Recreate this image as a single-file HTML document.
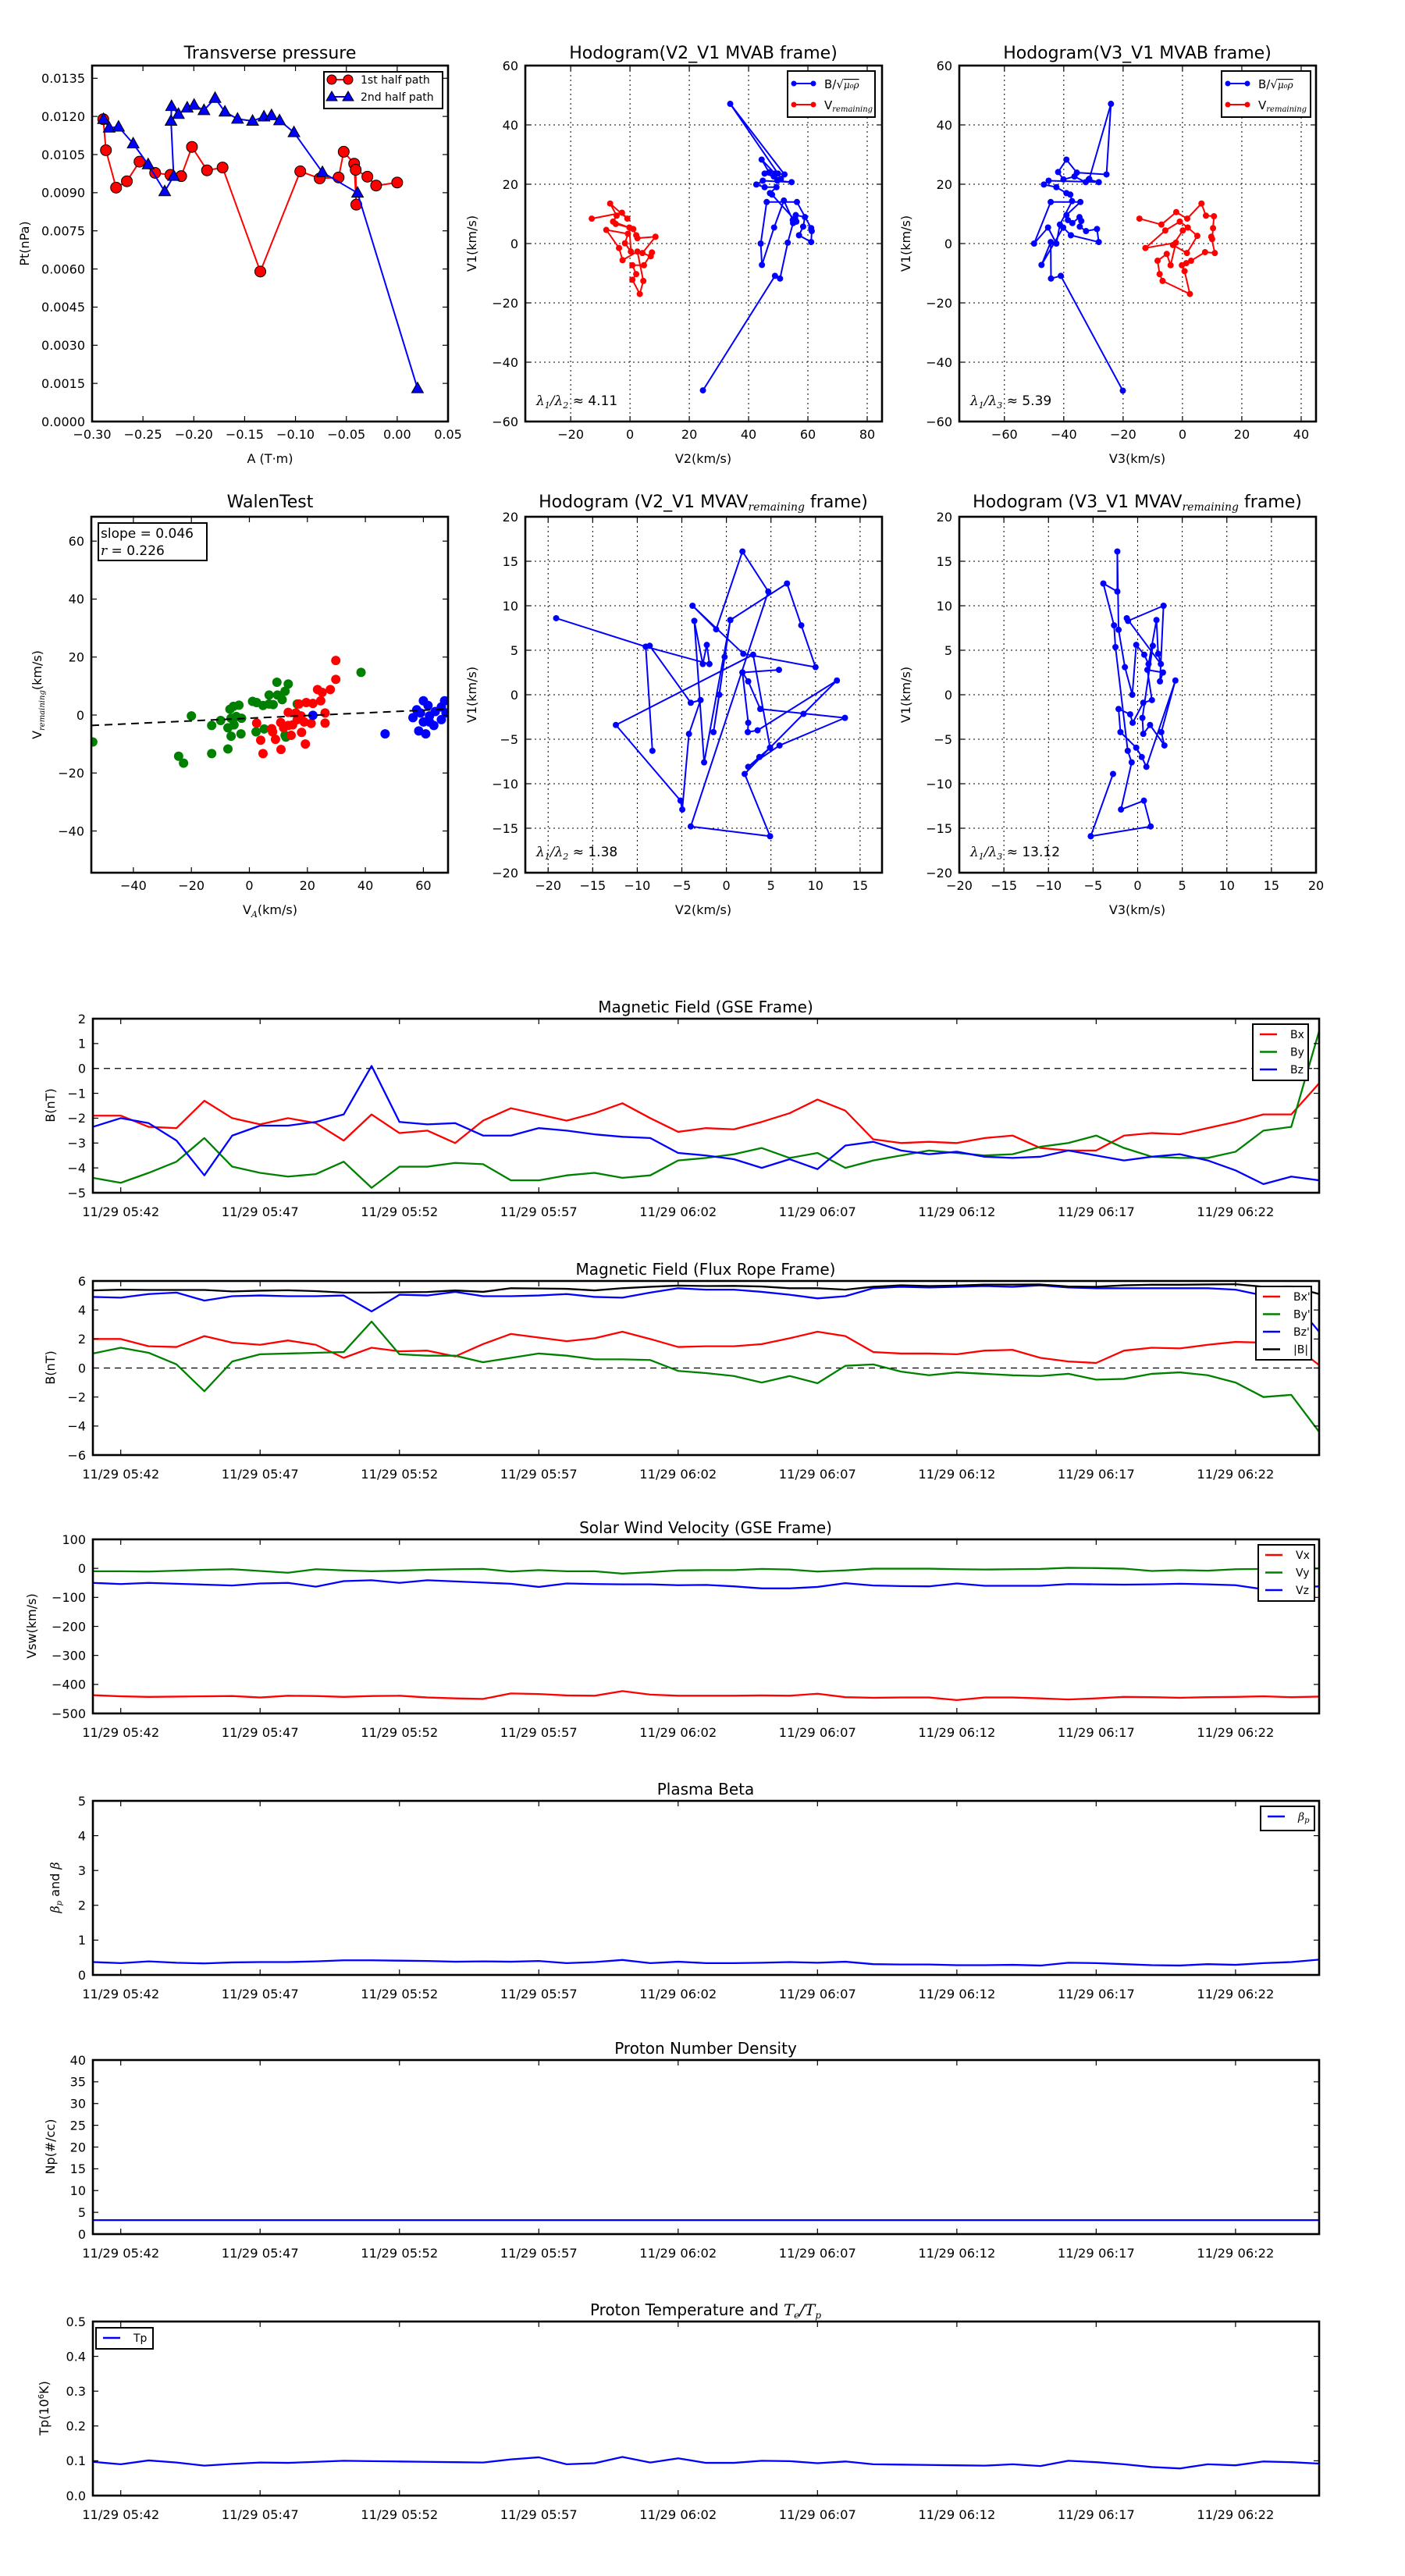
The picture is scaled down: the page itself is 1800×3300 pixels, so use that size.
<!DOCTYPE html>
<html><head><meta charset="utf-8">
<style>
html,body{margin:0;padding:0;background:#fff;}
svg{display:block;font-family:"DejaVu Sans","Liberation Sans",sans-serif;}
</style></head>
<body>
<svg id="fig" xmlns="http://www.w3.org/2000/svg" width="1800" height="3300" viewBox="0 0 1800 3300">
<rect x="0" y="0" width="1800" height="3300" fill="#fff"/>
</svg>
<script>
// ---------- Transverse pressure data ----------
const tp1A = [-0.289,-0.2864,-0.2764,-0.2658,-0.2534,-0.238,-0.223,-0.2124,-0.2018,-0.187,-0.1717,-0.1346,-0.0953,-0.0762,-0.0576,-0.0526,-0.0423,-0.0402,-0.0408,-0.0293,-0.0207,0.0];
const tp1P = [0.01189,0.01067,0.0092,0.00945,0.01022,0.00978,0.0097,0.00965,0.0108,0.00988,0.00999,0.0059,0.00984,0.00956,0.0096,0.01061,0.01014,0.00853,0.0099,0.00963,0.00928,0.0094];
const tp2A = [-0.2888,-0.2832,-0.274,-0.2596,-0.2449,-0.2286,-0.2198,-0.2224,-0.2219,-0.2151,-0.2065,-0.1997,-0.19,-0.1791,-0.1694,-0.157,-0.1422,-0.131,-0.1236,-0.1157,-0.1015,-0.0735,-0.039,0.02];
const tp2P = [0.01189,0.01155,0.01159,0.01093,0.01011,0.00905,0.00965,0.01182,0.0124,0.01209,0.01234,0.01245,0.01224,0.01272,0.01218,0.0119,0.01182,0.01199,0.01204,0.01184,0.01137,0.0098,0.00899,0.0013];
// ---------- Hodogram V2_V1 MVAB ----------
const h1BlueV2 = [24.6,48.9,50.6,53.2,55,55.9,59,58.4,57,61.1,61.3,61.1,56.3,46.1,44.1,44.5,48.6,51.9,54.9,55.7,56.1,47.9,47.2,49.4,45.4,42.6,44.8,54.5,49.7,50.9,48.5,45.4,46.9,44.4,48.9,52.1,33.8,49.9];
const h1BlueV1 = [-49.5,-10.9,-11.8,0.3,6.9,9.6,8.9,5.7,2.8,0.5,4.2,5.2,14,14,0,-7.2,5.4,14.5,7.9,8.4,7.4,16.5,17,19,19,19.9,21.2,20.7,21.2,21.8,22.6,23.6,24,28.3,23.6,23.3,47.1,23.6];
const h1RedV2 = [-12.9,-2.7,-0.9,-6.7,-4.5,-5.7,1.1,2.1,2.5,8.6,4.2,7,7.4,4.7,0.8,2.1,0.8,3.3,4.5,2.5,-2.5,-3.7,-8,-0.7,-1.7,0.3,-0.2,-4.8];
const h1RedV1 = [8.4,10.4,8.4,13.5,9.4,7.4,4.9,2.8,1.8,2.3,-3.2,-4.3,-3,-7.3,-7.3,-10.3,-12.2,-17,-12.6,-2.7,-5.6,-1.5,4.6,3.3,0.1,-2.7,5.4,6.6];
// ---------- Hodogram V3_V1 MVAB ----------
const h2BlueV3 = [-20.1,-41,-44.3,-44.4,-47.5,-40.2,-37.6,-28.2,-28.8,-32.5,-34.6,-34.1,-34.7,-37.1,-38.6,-39.1,-34.4,-44.4,-50,-45.3,-42.5,-41.3,-37.2,-37.8,-39.1,-42.5,-46.7,-45.1,-28.2,-31.6,-32.6,-36.4,-40.1,-41.9,-39.1,-35.6,-25.6,-24.1,-31.4];
const h2BlueV1 = [-49.6,-10.9,-11.8,0.5,-7.2,5.4,2.8,0.5,4.9,4.2,5.7,7.6,8.9,6.9,7.9,9.6,14,14,0,5.4,0,6.4,14.3,16.5,17,19,19.9,21.2,20.7,21.6,20.7,22.6,21.6,24.1,28.3,23.9,23.3,47.1,21.8];
const h2RedV3 = [-14.5,-7.1,-2.1,1.6,6.4,7.9,10.6,10.3,10,9.7,10.9,7.6,2.9,1.3,-0.2,0.7,2.5,-6.7,-7.7,-8.4,-5.3,-4,-2.2,-12.5,-5.8,-0.9,1.8,5,1.5,-3.2,0.1];
const h2RedV1 = [8.4,6.4,10.6,8.4,13.5,9.4,9.2,5.2,1.5,2.3,-3.2,-2.9,-5.8,-6.6,-7.3,-9.3,-17,-12.6,-10.3,-5.8,-3.5,-7.3,0.3,-1.5,4.4,7.4,5.4,2.6,-3.2,-0.5,4.4];
// ---------- Walen test ----------
const walenRedVA = [29.8,29.8,23.5,25.1,27.9,24.6,19.6,21.9,17.1,13.4,26.1,26.1,21.3,18.9,17.8,16,10.8,13.4,11.8,14.4,18,19.3,7.7,8,9,2.5,3.9,4.7,10.9,14.9,16.5];
const walenRedV = [18.8,12.3,8.8,7.8,8.8,4.9,4.3,4,3.8,0.9,0.7,-2.8,-2.9,-2.4,-0.3,0.7,-2.6,-3.6,-4.4,-7,-6,-10,-4.7,-5.8,-8.4,-2.8,-8.7,-13.3,-11.9,-3.4,-1.6];
const walenGreenVA = [-54,-24.4,-22.7,-20,-13,-13,-7.4,-6.3,-2.9,-7.4,-5.3,-9.9,-6.3,-4.5,-2.7,-6.7,-5.5,-3.6,1.1,2.5,2.3,5.1,4.7,6.8,6.8,8.2,9.7,11.3,12.3,13.4,9.5,12.3,12.6,16.5,38.5];
const walenGreenV = [-9.3,-14.2,-16.6,-0.3,-3.6,-13.3,-11.7,-7.3,-6.5,-4.4,-3.4,-1.9,-1.1,-0.5,-1.1,2,3,3.4,4.7,4.3,-5.8,-4.8,3.3,3.8,6.9,3.6,6.9,5.3,8.2,10.7,11.3,-7,-7.6,3.8,14.7];
const walenBlueVA = [21.9,46.8,56.4,58.4,60,60.8,61.6,63.6,66.2,67.3,67.8,59,62.1,64.1,60,62.1,66.2,57.7];
const walenBlueV = [-0.1,-6.5,-0.9,-5.5,4.9,-6.5,3.3,-3.6,-1.6,4.9,0.7,0.7,-0.3,1.2,-2.4,-2.4,2.8,1.8];
const walenSlope = 0.046;
const walenIntercept = -1.1;
// ---------- Hodogram MVAV V2_V1 ----------
const h3V2 = [-19.1,-9.05,-8.6,-4.0,-2.9,-4.2,-4.95,-5.15,-12.4,3.0,4.9,3.7,2.45,5.96,13.3,3.8,2.45,1.8,5.9,1.8,2.45,2.4,3.5,12.4,8.65,4.9,2.05,4.9,-4.0,4.7,1.8,-1.15,-3.8,1.9,10.0,8.4,6.8,0.44,-1.45,-0.8,-0.2,0.44,-2.5,-3.6,-2.65,-2.2,-1.9,-9.05,-8.3];
const h3V1 = [8.6,5.4,5.5,-0.9,-0.6,-4.4,-12.9,-11.9,-3.4,4.5,-5.95,-7.0,-8.1,-5.7,-2.6,-1.6,1.5,2.5,2.8,2.5,-3.15,-4.2,-4.0,1.6,-2.15,-5.95,-8.9,-15.9,-14.8,11.6,16.1,7.35,10.0,4.6,3.1,7.8,12.5,8.4,-4.2,0,4.25,8.4,-7.6,8.3,3.45,5.6,3.45,5.4,-6.3];
// ---------- Hodogram MVAV V3_V1 ----------
const h4V3 = [-2.76,-5.26,1.46,0.7,-1.87,-0.67,-1.11,-2.49,-2.65,-3.85,-2.28,-2.28,-2.14,-1.43,-0.6,-0.16,0.74,1.22,2.11,2.3,2.6,-1.22,-1.08,2.9,2.5,2.84,1.09,1.6,0.63,-0.56,-0.84,-2.14,-1.93,-0.16,0.46,0.98,4.23,2.65,3.0,1.39,0.63,0.53,1.7];
const h4V1 = [-8.9,-15.9,-14.8,-11.9,-12.9,-7.6,-6.3,5.35,7.8,12.5,11.6,16.1,7.3,3.1,0,5.6,4.5,3.45,8.4,4.6,3.45,8.6,8.3,10.0,1.5,2.5,2.8,-0.6,-0.9,-3.15,-2.2,-1.6,-4.2,-5.95,-7.0,-8.1,1.6,-4.2,-5.7,-3.4,-4.4,-2.6,5.5];
// ---------- Time series (1-min samples from 05:41) ----------
const minutes = [0,1,2,3,4,5,6,7,8,9,10,11,12,13,14,15,16,17,18,19,20,21,22,23,24,25,26,27,28,29,30,31,32,33,34,35,36,37,38,39,40,41,42,43,44];
const timeTickMinutes = [1,6,11,16,21,26,31,36,41];
const timeTickLabels = ['11/29 05:42','11/29 05:47','11/29 05:52','11/29 05:57','11/29 06:02','11/29 06:07','11/29 06:12','11/29 06:17','11/29 06:22'];
const bxGSE = [-1.9,-1.9,-2.35,-2.4,-1.3,-2.0,-2.25,-2.0,-2.2,-2.9,-1.85,-2.6,-2.5,-3.0,-2.1,-1.6,-1.85,-2.1,-1.8,-1.4,-2.0,-2.55,-2.4,-2.45,-2.15,-1.8,-1.25,-1.7,-2.85,-3.0,-2.95,-3.0,-2.8,-2.7,-3.2,-3.3,-3.3,-2.7,-2.6,-2.65,-2.4,-2.15,-1.85,-1.85,-0.6];
const byGSE = [-4.4,-4.6,-4.2,-3.75,-2.8,-3.95,-4.2,-4.35,-4.25,-3.75,-4.8,-3.95,-3.95,-3.8,-3.85,-4.5,-4.5,-4.3,-4.2,-4.4,-4.3,-3.7,-3.6,-3.45,-3.2,-3.6,-3.4,-4.0,-3.7,-3.5,-3.3,-3.4,-3.5,-3.45,-3.15,-3.0,-2.7,-3.2,-3.55,-3.6,-3.6,-3.35,-2.5,-2.35,1.5];
const bzGSE = [-2.35,-2.0,-2.2,-2.9,-4.3,-2.7,-2.3,-2.3,-2.15,-1.85,0.1,-2.15,-2.25,-2.2,-2.7,-2.7,-2.4,-2.5,-2.65,-2.75,-2.8,-3.4,-3.5,-3.65,-4.0,-3.65,-4.05,-3.1,-2.95,-3.3,-3.45,-3.35,-3.55,-3.6,-3.55,-3.3,-3.5,-3.7,-3.55,-3.45,-3.7,-4.1,-4.65,-4.35,-4.5];
const bxFR = [2.0,2.0,1.5,1.45,2.2,1.75,1.6,1.9,1.6,0.7,1.4,1.15,1.2,0.8,1.65,2.35,2.1,1.85,2.05,2.5,2.0,1.45,1.5,1.5,1.65,2.05,2.5,2.2,1.1,1.0,1.0,0.95,1.2,1.25,0.7,0.45,0.35,1.2,1.4,1.35,1.6,1.8,1.75,1.7,0.2];
const byFR = [1.0,1.4,1.05,0.25,-1.6,0.45,0.95,1.0,1.05,1.1,3.2,0.95,0.85,0.85,0.4,0.7,1.0,0.85,0.6,0.6,0.55,-0.2,-0.35,-0.55,-1.0,-0.55,-1.05,0.15,0.25,-0.25,-0.5,-0.3,-0.4,-0.5,-0.55,-0.4,-0.8,-0.75,-0.4,-0.3,-0.5,-1.0,-2.0,-1.85,-4.4];
const bzFR = [4.9,4.85,5.1,5.2,4.65,4.95,5.0,4.95,4.95,5.0,3.9,5.05,5.0,5.25,4.95,4.95,5.0,5.1,4.9,4.85,5.2,5.5,5.4,5.4,5.25,5.05,4.8,4.95,5.5,5.6,5.55,5.6,5.65,5.6,5.7,5.55,5.5,5.5,5.5,5.5,5.5,5.4,5.0,4.8,2.5];
const btFR = [5.35,5.4,5.38,5.38,5.38,5.28,5.33,5.36,5.3,5.2,5.2,5.22,5.24,5.35,5.25,5.5,5.48,5.46,5.35,5.5,5.6,5.68,5.65,5.66,5.62,5.5,5.5,5.4,5.6,5.7,5.65,5.68,5.75,5.75,5.76,5.62,5.6,5.7,5.74,5.74,5.76,5.78,5.6,5.62,5.1];
const vxGSE = [-437,-441,-443,-442,-441,-440,-445,-439,-440,-443,-440,-439,-445,-448,-450,-431,-433,-438,-439,-423,-435,-439,-439,-439,-438,-439,-432,-444,-446,-445,-445,-454,-445,-445,-448,-452,-448,-443,-444,-446,-444,-443,-441,-444,-442];
const vyGSE = [-10,-10,-11,-8,-5,-3,-9,-15,-3,-7,-10,-8,-5,-3,-2,-11,-6,-10,-10,-18,-13,-7,-6,-6,-2,-4,-11,-7,-1,-1,-1,-3,-4,-3,-2,2,1,-1,-9,-6,-8,-3,-2,-3,0];
const vzGSE = [-50,-54,-50,-53,-56,-59,-52,-50,-63,-44,-41,-50,-41,-45,-49,-53,-64,-52,-54,-55,-55,-58,-57,-62,-69,-69,-64,-51,-59,-61,-62,-52,-60,-60,-60,-54,-55,-56,-55,-53,-55,-58,-72,-67,-62];
const betaP = [0.37,0.34,0.39,0.35,0.33,0.36,0.37,0.37,0.39,0.42,0.42,0.41,0.40,0.38,0.39,0.38,0.40,0.34,0.37,0.43,0.34,0.38,0.34,0.34,0.35,0.37,0.35,0.38,0.31,0.30,0.30,0.28,0.28,0.29,0.27,0.35,0.34,0.31,0.28,0.27,0.31,0.29,0.34,0.37,0.44];
const npDensity = [3.2,3.2,3.2,3.2,3.2,3.2,3.2,3.2,3.2,3.2,3.2,3.2,3.2,3.2,3.2,3.2,3.2,3.2,3.2,3.2,3.2,3.2,3.2,3.2,3.2,3.2,3.2,3.2,3.2,3.2,3.2,3.2,3.2,3.2,3.2,3.2,3.2,3.2,3.2,3.2,3.2,3.2,3.2,3.2,3.2];
const tpTemp = [0.097,0.090,0.101,0.095,0.086,0.091,0.095,0.094,0.097,0.100,0.099,0.098,0.097,0.096,0.095,0.104,0.110,0.090,0.093,0.111,0.095,0.107,0.094,0.094,0.100,0.099,0.093,0.098,0.090,0.089,0.088,0.087,0.086,0.090,0.085,0.100,0.096,0.090,0.082,0.078,0.090,0.087,0.098,0.096,0.092];

const NS = 'http://www.w3.org/2000/svg';
const svg = document.getElementById('fig');
let clipCount = 0;
function mk(tag, attrs, parent) {
  const e = document.createElementNS(NS, tag);
  for (const k in attrs) e.setAttribute(k, attrs[k]);
  (parent || svg).appendChild(e);
  return e;
}
function nm(el, name, inter) {
  
  
  return el;
}
function axes(x0, y0, w, h, xmin, xmax, ymin, ymax) {
  return {x0, y0, w, h,
    sx: v => x0 + (v - xmin) / (xmax - xmin) * w,
    sy: v => y0 + h - (v - ymin) / (ymax - ymin) * h};
}
function clipGroup(ax, name) {
  const id = 'clip' + (clipCount++);
  const cp = mk('clipPath', {id: id});
  mk('rect', {x: ax.x0, y: ax.y0, width: ax.w, height: ax.h}, cp);
  const g = mk('g', {'clip-path': 'url(#' + id + ')'});
  nm(g, name);
  return g;
}
function frame(ax, name) {
  const r = mk('rect', {x: ax.x0, y: ax.y0, width: ax.w, height: ax.h, fill: 'none', stroke: '#000', 'stroke-width': 2.6});
  nm(r, name);
}
function ticksX(ax, vals, labels, name, fs, gap, tl) {
  const g = mk('g', {});
  nm(g, name);
  vals.forEach((v, i) => {
    const x = ax.sx(v);
    const t1 = mk('line', {x1: x, x2: x, y1: ax.y0 + ax.h, y2: ax.y0 + ax.h - 7, stroke: '#000', 'stroke-width': 1.2}, g);
    nm(t1, 'x-tick');
    const t2 = mk('line', {x1: x, x2: x, y1: ax.y0, y2: ax.y0 + 7, stroke: '#000', 'stroke-width': 1.2}, g);
    nm(t2, 'x-tick-top');
    const a = {x: x, y: ax.y0 + ax.h + gap, 'text-anchor': 'middle', 'font-size': fs, fill: '#000'};
    if (tl) { a.textLength = tl; a.lengthAdjust = 'spacingAndGlyphs'; }
    const t = mk('text', a, g);
    t.textContent = labels[i];
    nm(t, 'x-tick-label');
  });
}
function ticksY(ax, vals, labels, name, fs) {
  const g = mk('g', {});
  nm(g, name);
  vals.forEach((v, i) => {
    const y = ax.sy(v);
    const t1 = mk('line', {x1: ax.x0, x2: ax.x0 + 7, y1: y, y2: y, stroke: '#000', 'stroke-width': 1.2}, g);
    nm(t1, 'y-tick');
    const t2 = mk('line', {x1: ax.x0 + ax.w, x2: ax.x0 + ax.w - 7, y1: y, y2: y, stroke: '#000', 'stroke-width': 1.2}, g);
    nm(t2, 'y-tick-right');
    const t = mk('text', {x: ax.x0 - 9, y: y + fs * 0.36, 'text-anchor': 'end', 'font-size': fs, fill: '#000'}, g);
    t.textContent = labels[i];
    nm(t, 'y-tick-label');
  });
}
function gridLines(ax, xs, ys, name) {
  const g = mk('g', {});
  nm(g, name);
  xs.forEach(v => {
    const l = mk('line', {x1: ax.sx(v), x2: ax.sx(v), y1: ax.y0, y2: ax.y0 + ax.h, stroke: '#000', 'stroke-width': 1, 'stroke-dasharray': '2,4'}, g);
    nm(l, 'grid-line-x');
  });
  ys.forEach(v => {
    const l = mk('line', {x1: ax.x0, x2: ax.x0 + ax.w, y1: ax.sy(v), y2: ax.sy(v), stroke: '#000', 'stroke-width': 1, 'stroke-dasharray': '2,4'}, g);
    nm(l, 'grid-line-y');
  });
}
function text(x, y, str, fs, name, extra) {
  const a = {x: x, y: y, 'font-size': fs, fill: '#000', 'text-anchor': 'middle'};
  for (const k in (extra || {})) a[k] = extra[k];
  const t = mk('text', a);
  t.innerHTML = str;
  nm(t, name);
  return t;
}
function ylabel(x, y, str, fs, name, tl) {
  const a = {x: 0, y: 0, 'font-size': fs, fill: '#000', 'text-anchor': 'middle', transform: 'translate(' + x + ',' + y + ') rotate(-90)'};
  if (tl) { a.textLength = tl; a.lengthAdjust = 'spacingAndGlyphs'; }
  const t = mk('text', a);
  t.innerHTML = str;
  nm(t, name);
}
function polyline(ax, xs, ys, color, width, parent, name) {
  const pts = xs.map((v, i) => ax.sx(v).toFixed(2) + ',' + ax.sy(ys[i]).toFixed(2)).join(' ');
  const p = mk('polyline', {points: pts, fill: 'none', stroke: color, 'stroke-width': width, 'stroke-linejoin': 'round'}, parent);
  nm(p, name);
}
function dots(ax, xs, ys, color, r, parent, name, stroke) {
  const g = mk('g', {}, parent);
  nm(g, name);
  xs.forEach((v, i) => {
    const c = mk('circle', {cx: ax.sx(v), cy: ax.sy(ys[i]), r: r, fill: color, stroke: stroke || 'none', 'stroke-width': 1}, g);
    nm(c, name + '-point');
  });
}
function range(a, b, s) { const r = []; for (let v = a; v <= b + 1e-9; v += s) r.push(Math.round(v * 1e6) / 1e6); return r; }
const minus = v => String(v).replace('-', '\u2212');

// ================= Panel 1: Transverse pressure =================
(function () {
  const ax = axes(118, 84, 456, 456, -0.30, 0.05, 0, 0.014);
  const g = clipGroup(ax, 'transverse-pressure-plot');
  polyline(ax, tp1A, tp1P, '#f00', 2, g, 'first-half-line');
  dots(ax, tp1A, tp1P, '#f00', 7, g, 'first-half-marker', '#000');
  polyline(ax, tp2A, tp2P, '#00f', 2, g, 'second-half-line');
  const tg = mk('g', {}, g);
  nm(tg, 'second-half-markers');
  tp2A.forEach((v, i) => {
    const x = ax.sx(v), y = ax.sy(tp2P[i]);
    const p = mk('polygon', {points: (x) + ',' + (y - 8) + ' ' + (x - 7.5) + ',' + (y + 5.5) + ' ' + (x + 7.5) + ',' + (y + 5.5), fill: '#00f', stroke: '#000', 'stroke-width': 1}, tg);
    nm(p, 'second-half-marker');
  });
  const xt = range(-0.30, 0.05, 0.05);
  ticksX(ax, xt, xt.map(v => minus(v.toFixed(2))), 'x-axis-ticks', 16, 22);
  const yt = range(0, 0.0135, 0.0015);
  ticksY(ax, yt, yt.map(v => v.toFixed(4)), 'y-axis-ticks', 16);
  frame(ax, 'plot-frame');
  text(346, 75, 'Transverse pressure', 22, 'chart-title');
  text(346, 593, 'A (T·m)', 16, 'x-axis-title');
  ylabel(37, 312, 'Pt(nPa)', 16, 'y-axis-title');
  // legend
  const lg = mk('g', {});
  nm(lg, 'legend');
  const lb = mk('rect', {x: 415, y: 92, width: 152, height: 47, fill: '#fff', stroke: '#000', 'stroke-width': 2}, lg);
  nm(lb, 'legend-box');
  const l1 = mk('line', {x1: 425, x2: 446, y1: 102, y2: 102, stroke: '#f00', 'stroke-width': 2}, lg);
  nm(l1, 'legend-line-first');
  [425, 446].forEach(x => { const c = mk('circle', {cx: x, cy: 102, r: 6, fill: '#f00', stroke: '#000'}, lg); nm(c, 'legend-marker-first'); });
  const l2 = mk('line', {x1: 425, x2: 446, y1: 124, y2: 124, stroke: '#00f', 'stroke-width': 2}, lg);
  nm(l2, 'legend-line-second');
  [425, 446].forEach(x => { const p = mk('polygon', {points: x + ',' + 117 + ' ' + (x - 7) + ',' + 129 + ' ' + (x + 7) + ',' + 129, fill: '#00f', stroke: '#000'}, lg); nm(p, 'legend-marker-second'); });
  const t1 = mk('text', {x: 462, y: 107, 'font-size': 14}, lg); t1.textContent = '1st half path'; nm(t1, 'legend-label-first');
  const t2 = mk('text', {x: 462, y: 129, 'font-size': 14}, lg); t2.textContent = '2nd half path'; nm(t2, 'legend-label-second');
})();

function hodoLegend(x, y, w) {
  const lg = mk('g', {});
  nm(lg, 'legend');
  const b = mk('rect', {x: x, y: y, width: w, height: 59, fill: '#fff', stroke: '#000', 'stroke-width': 2}, lg);
  nm(b, 'legend-box');
  [['#00f', y + 16, 'legend-entry-b'], ['#f00', y + 43, 'legend-entry-v']].forEach(e => {
    const l = mk('line', {x1: x + 8, x2: x + 33, y1: e[1], y2: e[1], stroke: e[0], 'stroke-width': 2}, lg);
    nm(l, e[2] + '-line');
    [x + 8, x + 33].forEach(cx => { const c = mk('circle', {cx: cx, cy: e[1], r: 3.5, fill: e[0]}, lg); nm(c, e[2] + '-marker'); });
  });
  const t1 = mk('text', {x: x + 47, y: y + 22, 'font-size': 15}, lg);
  t1.innerHTML = 'B/√<tspan font-family="DejaVu Serif, Liberation Serif, serif" font-style="italic" font-size="12" text-decoration="overline">μ₀ρ</tspan>';
  nm(t1, 'legend-label-b');
  const t2 = mk('text', {x: x + 47, y: y + 49, 'font-size': 15}, lg);
  t2.innerHTML = 'V<tspan font-family="DejaVu Serif, Liberation Serif, serif" font-style="italic" font-size="10" dy="3">remaining</tspan>';
  nm(t2, 'legend-label-v');
}
function hodoPanel(x0, y0, xmin, xmax, ymin, ymax, xt, yt, xlab, ratioTxt, name) {
  const ax = axes(x0, y0, 457, 456, xmin, xmax, ymin, ymax);
  gridLines(ax, xt, yt, name + '-grid');
  const g = clipGroup(ax, name + '-plot');
  ticksX(ax, xt, xt.map(minus), name + '-x-ticks', 16, 22);
  ticksY(ax, yt, yt.map(minus), name + '-y-ticks', 16);
  text(x0 + 228, y0 + 509, xlab, 16, name + '-x-axis-title');
  ylabel(x0 - 63, y0 + 228, 'V1(km/s)', 16, name + '-y-axis-title');
  const rt = text(x0 + 14, y0 + 435, ratioTxt, 17, name + '-eigen-ratio', {'text-anchor': 'start'});
  return {ax, g};
}
// ================= Panel 2 =================
(function () {
  const P = hodoPanel(673, 84, -35.3, 85, -60, 60, range(-20, 80, 20), range(-60, 60, 20), 'V2(km/s)',
    '<tspan font-family="DejaVu Serif, serif" font-style="italic">λ<tspan font-size="11" dy="4">1</tspan><tspan dy="-4">/λ</tspan><tspan font-size="11" dy="4">2</tspan></tspan><tspan dy="-4"> ≈ 4.11</tspan>', 'hodogram-mvab-v2');
  polyline(P.ax, h1BlueV2, h1BlueV1, '#00f', 2, P.g, 'b-alfven-line');
  dots(P.ax, h1BlueV2, h1BlueV1, '#00f', 4, P.g, 'b-alfven');
  polyline(P.ax, h1RedV2, h1RedV1, '#f00', 2, P.g, 'v-remaining-line');
  dots(P.ax, h1RedV2, h1RedV1, '#f00', 4, P.g, 'v-remaining');
  frame(P.ax, 'plot-frame');
  text(901, 75, 'Hodogram(V2_V1 MVAB frame)', 22, 'chart-title');
  hodoLegend(1009, 91, 112);
})();
// ================= Panel 3 =================
(function () {
  const P = hodoPanel(1229, 84, -75.2, 45, -60, 60, range(-60, 40, 20), range(-60, 60, 20), 'V3(km/s)',
    '<tspan font-family="DejaVu Serif, serif" font-style="italic">λ<tspan font-size="11" dy="4">1</tspan><tspan dy="-4">/λ</tspan><tspan font-size="11" dy="4">3</tspan></tspan><tspan dy="-4"> ≈ 5.39</tspan>', 'hodogram-mvab-v3');
  polyline(P.ax, h2BlueV3, h2BlueV1, '#00f', 2, P.g, 'b-alfven-line');
  dots(P.ax, h2BlueV3, h2BlueV1, '#00f', 4, P.g, 'b-alfven');
  polyline(P.ax, h2RedV3, h2RedV1, '#f00', 2, P.g, 'v-remaining-line');
  dots(P.ax, h2RedV3, h2RedV1, '#f00', 4, P.g, 'v-remaining');
  frame(P.ax, 'plot-frame');
  text(1457, 75, 'Hodogram(V3_V1 MVAB frame)', 22, 'chart-title');
  hodoLegend(1565, 91, 114);
})();
// ================= Panel 4: Walen =================
(function () {
  const ax = axes(117, 662, 457, 456, -54.5, 68.5, -54.4, 68.4);
  const g = clipGroup(ax, 'walen-test-plot');
  dots(ax, walenGreenVA, walenGreenV, '#008000', 6, g, 'walen-green');
  dots(ax, walenRedVA, walenRedV, '#f00', 6, g, 'walen-red');
  dots(ax, walenBlueVA, walenBlueV, '#00f', 6, g, 'walen-blue');
  const fx = [-54.5, 68.5];
  const fl = mk('line', {x1: ax.sx(fx[0]), y1: ax.sy(walenSlope * fx[0] + walenIntercept), x2: ax.sx(fx[1]), y2: ax.sy(walenSlope * fx[1] + walenIntercept), stroke: '#000', 'stroke-width': 2, 'stroke-dasharray': '10,7'}, g);
  nm(fl, 'fit-line');
  const xt = range(-40, 60, 20), yt = range(-40, 60, 20);
  ticksX(ax, xt, xt.map(minus), 'x-axis-ticks', 16, 22);
  ticksY(ax, yt, yt.map(minus), 'y-axis-ticks', 16);
  frame(ax, 'plot-frame');
  text(346, 650, 'WalenTest', 22, 'chart-title');
  text(346, 1171, 'V<tspan font-family="DejaVu Serif, serif" font-style="italic" font-size="11" dy="4">A</tspan><tspan dy="-4">(km/s)</tspan>', 16, 'x-axis-title');
  ylabel(53, 890, 'V<tspan font-family="DejaVu Serif, serif" font-style="italic" font-size="10" dy="4">remaining</tspan><tspan dy="-4">(km/s)</tspan>', 16, 'y-axis-title');
  const b = mk('rect', {x: 126, y: 670, width: 139, height: 48, fill: '#fff', stroke: '#000', 'stroke-width': 2});
  nm(b, 'stats-box');
  text(129, 689, 'slope = 0.046', 17, 'slope-label', {'text-anchor': 'start'});
  text(129, 711, '<tspan font-family="DejaVu Serif, serif" font-style="italic">r</tspan> = 0.226', 17, 'r-label', {'text-anchor': 'start'});
})();
// ================= Panel 5 =================
(function () {
  const P = hodoPanel(673, 662, -22.56, 17.46, -20, 20, range(-20, 15, 5), range(-20, 20, 5), 'V2(km/s)',
    '<tspan font-family="DejaVu Serif, serif" font-style="italic">λ<tspan font-size="11" dy="4">1</tspan><tspan dy="-4">/λ</tspan><tspan font-size="11" dy="4">2</tspan></tspan><tspan dy="-4"> ≈ 1.38</tspan>', 'hodogram-mvav-v2');
  polyline(P.ax, h3V2, h3V1, '#00f', 2, P.g, 'v-remaining-line');
  dots(P.ax, h3V2, h3V1, '#00f', 4, P.g, 'v-remaining');
  frame(P.ax, 'plot-frame');
  text(901, 650, 'Hodogram (V2_V1 MVAV<tspan font-family="DejaVu Serif, serif" font-style="italic" font-size="14" dy="4">remaining</tspan><tspan dy="-4"> frame)</tspan>', 22, 'chart-title');
})();
// ================= Panel 6 =================
(function () {
  const P = hodoPanel(1229, 662, -20, 20, -20, 20, range(-20, 20, 5), range(-20, 20, 5), 'V3(km/s)',
    '<tspan font-family="DejaVu Serif, serif" font-style="italic">λ<tspan font-size="11" dy="4">1</tspan><tspan dy="-4">/λ</tspan><tspan font-size="11" dy="4">3</tspan></tspan><tspan dy="-4"> ≈ 13.12</tspan>', 'hodogram-mvav-v3');
  polyline(P.ax, h4V3, h4V1, '#00f', 2, P.g, 'v-remaining-line');
  dots(P.ax, h4V3, h4V1, '#00f', 4, P.g, 'v-remaining');
  frame(P.ax, 'plot-frame');
  text(1457, 650, 'Hodogram (V3_V1 MVAV<tspan font-family="DejaVu Serif, serif" font-style="italic" font-size="14" dy="4">remaining</tspan><tspan dy="-4"> frame)</tspan>', 22, 'chart-title');
})();

// ================= Time series =================
function tsPanel(o) {
  const ax = axes(119, o.y0, 1571, 223, 0, 44, o.ymin, o.ymax);
  const g = clipGroup(ax, o.name + '-plot');
  if (o.zero) {
    const z = mk('line', {x1: ax.x0, x2: ax.x0 + ax.w, y1: ax.sy(0), y2: ax.sy(0), stroke: '#000', 'stroke-width': 1.3, 'stroke-dasharray': '8,6'}, g);
    nm(z, o.name + '-zero-line');
  }
  o.series.forEach(s => polyline(ax, minutes, s.vals, s.color, 2.3, g, s.name));
  ticksX(ax, timeTickMinutes, timeTickLabels, o.name + '-x-ticks', 16, 30, 99);
  ticksY(ax, o.yt, o.yt.map(v => minus(o.fmt ? v.toFixed(o.fmt) : v)), o.name + '-y-ticks', 16);
  frame(ax, o.name + '-frame');
  text(904, o.y0 - 8, o.title, 20, o.name + '-title');
  ylabel(o.ylx, o.y0 + 111, o.ylabel, 16, o.name + '-y-axis-title');
  if (o.legend) {
    const L = o.legend;
    const lg = mk('g', {});
    nm(lg, o.name + '-legend');
    const b = mk('rect', {x: L.x, y: L.y, width: L.w, height: L.h, fill: '#fff', stroke: '#000', 'stroke-width': 2}, lg);
    nm(b, 'legend-box');
    L.items.forEach((it, i) => {
      const yy = L.y + 13 + i * 22.5;
      const l = mk('line', {x1: L.x + 9, x2: L.x + 31, y1: yy, y2: yy, stroke: it.color, 'stroke-width': 2.5}, lg);
      nm(l, 'legend-line');
      const t = mk('text', {x: L.x + 48, y: yy + 5, 'font-size': 14}, lg);
      t.innerHTML = it.label;
      nm(t, 'legend-label');
    });
  }
}
tsPanel({name: 'magnetic-field-gse', y0: 1305, ymin: -5, ymax: 2, yt: range(-5, 2, 1), zero: true,
  title: 'Magnetic Field (GSE Frame)', ylabel: 'B(nT)', ylx: 70,
  series: [{vals: bxGSE, color: '#f00', name: 'bx-line'}, {vals: byGSE, color: '#008000', name: 'by-line'}, {vals: bzGSE, color: '#00f', name: 'bz-line'}],
  legend: {x: 1605, y: 1312, w: 71, h: 72, items: [{color: '#f00', label: 'Bx'}, {color: '#008000', label: 'By'}, {color: '#00f', label: 'Bz'}]}});
tsPanel({name: 'magnetic-field-flux-rope', y0: 1641, ymin: -6, ymax: 6, yt: range(-6, 6, 2), zero: true,
  title: 'Magnetic Field (Flux Rope Frame)', ylabel: 'B(nT)', ylx: 70,
  series: [{vals: bxFR, color: '#f00', name: 'bx-prime-line'}, {vals: byFR, color: '#008000', name: 'by-prime-line'}, {vals: bzFR, color: '#00f', name: 'bz-prime-line'}, {vals: btFR, color: '#000', name: 'b-magnitude-line'}],
  legend: {x: 1609, y: 1648, w: 71, h: 94, items: [{color: '#f00', label: "Bx'"}, {color: '#008000', label: "By'"}, {color: '#00f', label: "Bz'"}, {color: '#000', label: '|B|'}]}});
tsPanel({name: 'solar-wind-velocity', y0: 1972, ymin: -500, ymax: 100, yt: range(-500, 100, 100), zero: false,
  title: 'Solar Wind Velocity (GSE Frame)', ylabel: 'Vsw(km/s)', ylx: 46,
  series: [{vals: vxGSE, color: '#f00', name: 'vx-line'}, {vals: vyGSE, color: '#008000', name: 'vy-line'}, {vals: vzGSE, color: '#00f', name: 'vz-line'}],
  legend: {x: 1612, y: 1979, w: 72, h: 72, items: [{color: '#f00', label: 'Vx'}, {color: '#008000', label: 'Vy'}, {color: '#00f', label: 'Vz'}]}});
tsPanel({name: 'plasma-beta', y0: 2307, ymin: 0, ymax: 5, yt: range(0, 5, 1), zero: false,
  title: 'Plasma Beta', ylabel: '<tspan font-family="DejaVu Serif, serif" font-style="italic">β<tspan font-size="10" dy="3">p</tspan></tspan><tspan dy="-3"> and </tspan><tspan font-family="DejaVu Serif, serif" font-style="italic">β</tspan>', ylx: 76,
  series: [{vals: betaP, color: '#00f', name: 'beta-p-line'}],
  legend: {x: 1615, y: 2314, w: 69, h: 31, items: [{color: '#00f', label: '<tspan font-family="DejaVu Serif, serif" font-style="italic">β<tspan font-size="10" dy="3">p</tspan></tspan>'}]}});
tsPanel({name: 'proton-density', y0: 2639, ymin: 0, ymax: 40, yt: range(0, 40, 5), zero: false,
  title: 'Proton Number Density', ylabel: 'Np(#/cc)', ylx: 70,
  series: [{vals: npDensity, color: '#00f', name: 'np-line'}]});
tsPanel({name: 'proton-temperature', y0: 2974, ymin: 0, ymax: 0.5, yt: range(0, 0.5, 0.1), fmt: 1, zero: false,
  title: 'Proton Temperature and <tspan font-family="DejaVu Serif, serif" font-style="italic">T<tspan font-size="12" dy="4">e</tspan><tspan dy="-4">/T</tspan><tspan font-size="12" dy="4">p</tspan></tspan>', ylabel: 'Tp(10<tspan font-size="10" dy="-6">6</tspan><tspan dy="6">K)</tspan>', ylx: 62,
  series: [{vals: tpTemp, color: '#00f', name: 'tp-line'}],
  legend: {x: 123, y: 2982, w: 73, h: 27, items: [{color: '#00f', label: 'Tp'}]}});
</script>
</body></html>
